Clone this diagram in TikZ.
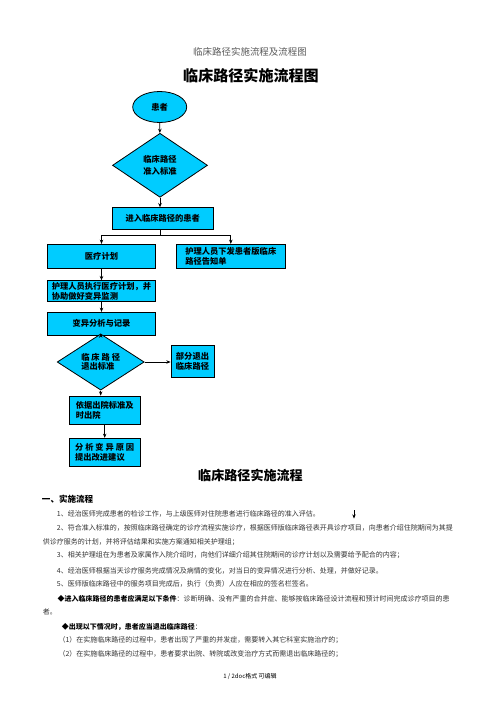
\documentclass[tikz,border=0pt]{standalone}
\usepackage{fontspec}
\usepackage{xcolor}
\usepackage{tikz}
\usetikzlibrary{shapes.geometric,arrows.meta}
\setmainfont{Noto Sans CJK SC}
\definecolor{flowcyan}{RGB}{0,204,255}
\tikzset{
  flowbox/.style={draw, fill=flowcyan, line width=0.6pt, inner sep=0pt, align=left,
    font=\fontsize{6.2}{7.1}\selectfont\bfseries},
  decision/.style={diamond, draw, fill=flowcyan, line width=0.6pt, inner sep=0pt, align=left,
    font=\fontsize{6.2}{7.1}\selectfont\bfseries},
  startend/.style={ellipse, draw, fill=flowcyan, line width=0.6pt, inner sep=0pt,
    font=\fontsize{6.2}{7.1}\selectfont\bfseries},
  flowarrow/.style={-{Stealth[length=3.2pt,width=2.6pt]}, line width=0.5pt},
  bodytext/.style={anchor=west, inner sep=0pt, text=black!80, font=\fontsize{5.25}{6}\selectfont},
}

\begin{document}
\begin{tikzpicture}[x=0.75pt,y=0.75pt,yscale=-1,xscale=1]
\useasboundingbox (0,0) rectangle (503,711);

% page heading
\node (header) at (250,51.7) [text=black!65, font=\fontsize{7.1}{8}\selectfont] {临床路径实施流程及流程图};
\node (title) at (251,75.7) [font=\fontsize{11.3}{12}\selectfont\bfseries] {临床路径实施流程图};

% flow chart
\node (patient) at (159.7,107) [startend, minimum width=40.5pt, minimum height=23.25pt] {患者};
\node (entry) at (160,165.3) [decision, minimum width=71.25pt, minimum height=48pt,
  font=\fontsize{6.2}{8.7}\selectfont\bfseries] {临床路径\\准入标准};
\node (enrolled) at (162.7,218.7) [flowbox, minimum width=75.75pt, minimum height=16.5pt] {进入临床路径的患者};
\node (plan) at (101.5,256.3) [flowbox, minimum width=81.3pt, minimum height=18pt] {医疗计划};
\node (notice) at (230.8,256.3) [flowbox, minimum width=81.2pt, minimum height=18pt] {护理人员下发患者版临床\\路径告知单};
\node (nursing) at (101.5,291.2) [flowbox, minimum width=81.3pt, minimum height=15.75pt] {护理人员执行医疗计划，并\\协助做好变异监测};
\node (variance) at (101.5,323.7) [flowbox, minimum width=81.3pt, minimum height=17pt] {变异分析与记录};
\node (exitcheck) at (100.7,362) [decision, minimum width=65.25pt, minimum height=31.5pt] {临 床 路 径\\退出标准};
\node (partial) at (192.5,361.2) [flowbox, minimum width=32.25pt, minimum height=24.2pt] {部分退出\\临床路径};
\node (discharge) at (104.7,410.2) [flowbox, minimum width=53pt, minimum height=21.2pt] {依据出院标准及\\时出院};
\node (analysis) at (104.7,452.4) [flowbox, minimum width=53pt, minimum height=21.2pt] {分 析 变 异 原 因\\提出改进建议};

\draw [flowarrow] (patient) -- (entry);
\draw [flowarrow] (entry.south) -- (entry.south |- enrolled.north);
\draw [flowarrow] (entry.south |- enrolled.south) -- ++(0,5) -| (plan.north);
\draw [flowarrow] (entry.south |- enrolled.south) -- ++(0,5) -| (notice.north);
\draw [flowarrow] (plan) -- (nursing);
\draw [flowarrow] (nursing) -- (variance);
\draw [flowarrow] (variance.south) -- (variance.south -| exitcheck.north) -- (exitcheck.north);
\draw [flowarrow] (exitcheck.east) -- (exitcheck.east -| partial.west);
\draw [flowarrow] (exitcheck.south) -- (exitcheck.south |- discharge.north);
\draw [flowarrow] (discharge) -- (analysis);

% text part
\node (subtitle) at (250.5,475.7) [font=\fontsize{9.8}{11}\selectfont\bfseries] {临床路径实施流程};
\node (section) at (41.7,499.3) [bodytext, text=black, font=\fontsize{6.4}{7}\selectfont\bfseries] {一、实施流程};

\node (line1) at (56.7,514.3) [bodytext] {1、经治医师完成患者的检诊工作，与上级医师对住院患者进行临床路径的准入评估。};
\coordinate (strayTop) at (354,510);
\coordinate (strayEnd) at (354,518.6);
\draw [flowarrow] (strayTop) -- (strayEnd);
\node (line2) at (56.7,527.7) [bodytext] {2、符合准入标准的，按照临床路径确定的诊疗流程实施诊疗，根据医师版临床路径表开具诊疗项目，向患者介绍住院期间为其提};
\node (line3) at (42.7,542.3) [bodytext] {供诊疗服务的计划，并将评估结果和实施方案通知相关护理组；};
\node (line4) at (56.7,555.3) [bodytext] {3、相关护理组在为患者及家属作入院介绍时，向他们详细介绍其住院期间的诊疗计划以及需要给予配合的内容；};
\node (line5) at (56.7,570.5) [bodytext] {4、经治医师根据当天诊疗服务完成情况及病情的变化，对当日的变异情况进行分析、处理，并做好记录。};
\node (line6) at (56.7,584.3) [bodytext] {5、医师版临床路径中的服务项目完成后，执行（负责）人应在相应的签名栏签名。};
\node (line7) at (57.3,599.3) [bodytext] {{\color{black}\bfseries ◆进入临床路径的患者应满足以下条件}：诊断明确、没有严重的合并症、能够按临床路径设计流程和预计时间完成诊疗项目的患};
\node (line8) at (42.7,612.3) [bodytext] {者。};
\node (line9) at (61.7,626.7) [bodytext] {{\color{black}\bfseries ◆出现以下情况时，患者应当退出临床路径}：};
\node (line10) at (58.3,640) [bodytext] {（1）在实施临床路径的过程中，患者出现了严重的并发症，需要转入其它科室实施治疗的；};
\node (line11) at (58.3,654.3) [bodytext] {（2）在实施临床路径的过程中，患者要求出院、转院或改变治疗方式而需退出临床路径的；};

\node (footer) at (250,676.7) [font=\fontsize{4.5}{5}\selectfont] {1 / 2doc格式 可编辑};

\end{tikzpicture}
\end{document}
